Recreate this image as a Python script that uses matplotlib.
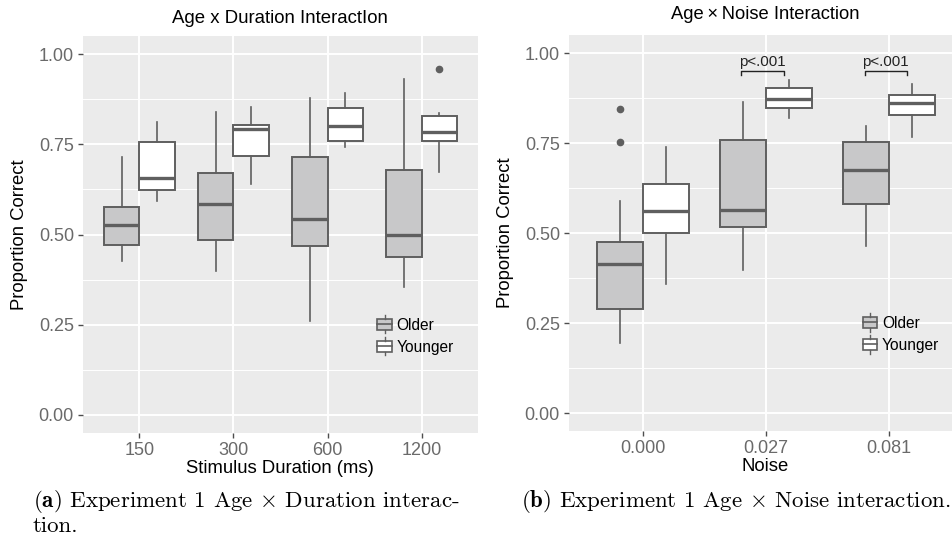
import matplotlib
matplotlib.use('Agg')
import matplotlib.pyplot as plt
from matplotlib.legend_handler import HandlerBase
from matplotlib.patches import Rectangle
from matplotlib.lines import Line2D

plt.rcParams['font.family'] = ['Liberation Sans', 'DejaVu Sans']
plt.rcParams['mathtext.fontset'] = 'cm'

# box statistics: (whislo, q1, med, q3, whishi, fliers)
durations = ['150', '300', '600', '1200']
dur_older = [
    (0.427, 0.471, 0.527, 0.576, 0.714, []),
    (0.400, 0.484, 0.584, 0.671, 0.839, []),
    (0.260, 0.469, 0.544, 0.714, 0.879, []),
    (0.354, 0.438, 0.500, 0.680, 0.932, []),
]
dur_younger = [
    (0.594, 0.624, 0.657, 0.757, 0.812, []),
    (0.641, 0.717, 0.793, 0.803, 0.853, []),
    (0.742, 0.758, 0.800, 0.850, 0.892, []),
    (0.674, 0.758, 0.783, 0.828, 0.837, [0.959]),
]

noise_levels = ['0.000', '0.027', '0.081']
noise_older = [
    (0.195, 0.289, 0.415, 0.474, 0.589, [0.754, 0.845]),
    (0.396, 0.517, 0.563, 0.758, 0.864, []),
    (0.464, 0.580, 0.674, 0.754, 0.798, []),
]
noise_younger = [
    (0.357, 0.501, 0.560, 0.635, 0.739, []),
    (0.820, 0.847, 0.871, 0.903, 0.924, []),
    (0.766, 0.827, 0.860, 0.882, 0.913, []),
]
sig_levels = [1, 2]
sig_label = 'p<.001'

groups = ['Older', 'Younger']
fills = {'Older': '#c8c8c9', 'Younger': '#ffffff'}
edge = '#5f5f5f'
panel_bg = '#ebebeb'
tick_col = '#6a6a6a'


def to_stats(rows):
    return [dict(whislo=r[0], q1=r[1], med=r[2], q3=r[3], whishi=r[4], fliers=r[5])
            for r in rows]


class BoxKey(HandlerBase):
    def create_artists(self, legend, orig, xd, yd, w, h, fontsize, trans):
        x0, y0 = -xd, -yd
        rect = Rectangle((x0, y0), w, h, facecolor=orig.get_facecolor(),
                         edgecolor=edge, lw=1.2, transform=trans)
        med = Line2D([x0, x0 + w], [y0 + h / 2] * 2, color=edge, lw=1.2, transform=trans)
        top = Line2D([x0 + w / 2] * 2, [y0 + h, y0 + h + 2.5], color=edge, lw=1.0, transform=trans)
        bot = Line2D([x0 + w / 2] * 2, [y0, y0 - 2.5], color=edge, lw=1.0, transform=trans)
        return [rect, med, top, bot]


def draw_panel(ax, cats, older, younger):
    n = len(cats)
    for k, (grp, rows) in enumerate([('Older', older), ('Younger', younger)]):
        pos = [i + (k - 0.5) * 0.375 for i in range(n)]
        ax.bxp(to_stats(rows), positions=pos, widths=0.375, patch_artist=True,
               showcaps=False, manage_ticks=False,
               boxprops=dict(facecolor=fills[grp], edgecolor=edge, lw=1.4),
               medianprops=dict(color=edge, lw=2.4, solid_capstyle='butt'),
               whiskerprops=dict(color=edge, lw=1.2),
               flierprops=dict(marker='o', markersize=4.5, markerfacecolor=edge,
                               markeredgecolor=edge))
    ax.set_facecolor(panel_bg)
    ax.set_xlim(-0.6, n - 0.4)
    ax.set_ylim(-0.05, 1.05)
    ax.set_xticks(range(n))
    ax.set_xticklabels(cats)
    ax.set_yticks([0, 0.25, 0.5, 0.75, 1.0])
    ax.set_yticklabels(['0.00', '0.25', '0.50', '0.75', '1.00'])
    ax.set_yticks([0.125, 0.375, 0.625, 0.875], minor=True)
    ax.grid(True, which='major', color='white', lw=1.4)
    ax.grid(True, which='minor', axis='y', color='white', lw=0.7)
    ax.set_axisbelow(True)
    for s in ax.spines.values():
        s.set_visible(False)
    ax.tick_params(which='major', length=3.5, width=1.0, color='#4d4d4d',
                   labelsize=13, labelcolor=tick_col, pad=3)
    ax.tick_params(which='minor', length=0)
    handles = [Rectangle((0, 0), 1, 1, facecolor=fills[g]) for g in groups]
    ax.legend(handles, groups, handler_map={Rectangle: BoxKey()},
              loc='center left', bbox_to_anchor=(0.745, 0.244), frameon=False,
              fontsize=11.2, handlelength=0.95, handleheight=0.75,
              handletextpad=0.3, labelspacing=0.45, borderpad=0, borderaxespad=0)


fig = plt.figure(figsize=(9.53, 5.35), dpi=100)
ax1 = fig.add_axes([83 / 953, 1 - 433 / 535, 395 / 953, 397 / 535])
ax2 = fig.add_axes([569 / 953, 1 - 431 / 535, 394 / 953, 396 / 535])

draw_panel(ax1, durations, dur_older, dur_younger)
draw_panel(ax2, noise_levels, noise_older, noise_younger)

# significance brackets over the noise conditions
for i in sig_levels:
    x0, x1 = i - 0.2, i + 0.145
    ax2.plot([x0, x0, x1, x1], [0.938, 0.949, 0.949, 0.938], color='#222222', lw=1.0)
    ax2.text(i - 0.027, 0.965, sig_label, ha='center', va='baseline', fontsize=10.8,
             color='#222222')

fig.text(280 / 953, 1 - 18.5 / 535, 'Age x Duration InteractIon', ha='center',
         va='center', fontsize=13.4)
fig.text(765 / 953, 1 - 14.5 / 535, 'Age\u2009×\u2009Noise Interaction', ha='center',
         va='center', fontsize=13.2)

fig.text(20 / 953, 1 - 235 / 535, 'Proportion Correct', rotation=90, ha='center',
         va='center', fontsize=13.3)
fig.text(506 / 953, 1 - 233 / 535, 'Proportion Correct', rotation=90, ha='center',
         va='center', fontsize=13.3)
fig.text(280 / 953, 1 - 473 / 535, 'Stimulus Duration (ms)', ha='center',
         va='baseline', fontsize=13.3)
fig.text(765 / 953, 1 - 471 / 535, 'Noise', ha='center', va='baseline', fontsize=13.3)

# sub-figure captions
cap = dict(va='baseline', fontsize=16.5, family='cmr10')
fig.text(33 / 953, 1 - 507 / 535,
         r'$\mathbf{(a)}$ Experiment 1 Age $\times$ Duration interac-', **cap)
fig.text(33 / 953, 1 - 532 / 535, 'tion.', **cap)
fig.text(521 / 953, 1 - 507 / 535,
         r'$\mathbf{(b)}$ Experiment 1 Age $\times$ Noise interaction.', **cap)

fig.savefig('out.png', dpi=100)
